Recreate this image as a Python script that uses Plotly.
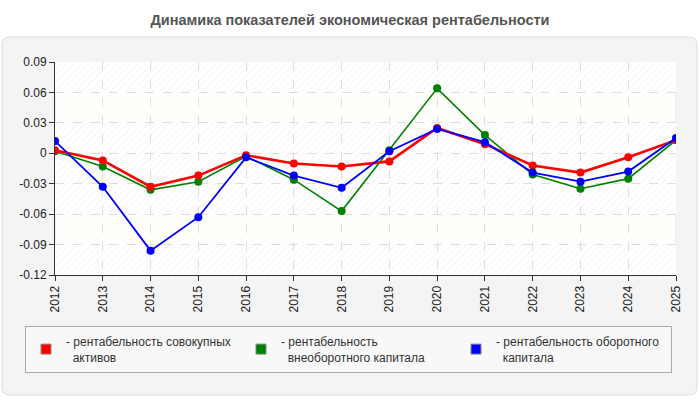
import plotly.graph_objects as go

years = [2012, 2013, 2014, 2015, 2016, 2017, 2018, 2019, 2020, 2021, 2022, 2023, 2024, 2025]
year_labels = [str(y) for y in years]
red_vals = [0.003, -0.007, -0.033, -0.022, -0.002, -0.010, -0.013, -0.008, 0.025, 0.009, -0.012, -0.019, -0.004, 0.013]
green_vals = [0.002, -0.013, -0.036, -0.028, -0.003, -0.026, -0.057, 0.003, 0.064, 0.018, -0.021, -0.035, -0.025, 0.013]
blue_vals = [0.012, -0.033, -0.096, -0.063, -0.004, -0.022, -0.034, 0.002, 0.024, 0.011, -0.019, -0.028, -0.018, 0.015]
y_ticks = [0.09, 0.06, 0.03, 0, -0.03, -0.06, -0.09, -0.12]
y_tick_labels = ["0.09", "0.06", "0.03", "0", "-0.03", "-0.06", "-0.09", "-0.12"]
hatch_bands = [(0.06, 0.09), (-0.06, 0.03), (-0.12, -0.09)]

series_names = [
    "- рентабельность совокупных<br>\u00a0\u00a0активов",
    "- рентабельность<br>\u00a0\u00a0внеоборотного капитала",
    "- рентабельность оборотного<br>\u00a0\u00a0капитала",
]
colors = ["#ff0000", "#008000", "#0000ff"]

W, H = 700, 400
ml, mr, mt, mb = 55, 24, 62, 125
pw, ph = W - ml - mr, H - mt - mb

def px_x(p):
    return (p - ml) / pw

def px_y(p):
    return (H - mb - p) / ph

fig = go.Figure()

xmin, xmax = years[0], years[-1]
ymin, ymax = min(y_ticks), max(y_ticks)

# hatched background bands
for lo, hi in hatch_bands:
    fig.add_trace(go.Scatter(
        x=[xmin, xmax, xmax, xmin, xmin], y=[lo, lo, hi, hi, lo],
        mode="lines", line=dict(width=0), fill="toself",
        fillcolor="rgba(0,0,0,0)",
        fillpattern=dict(shape="/", fgcolor="#e8e8e8", bgcolor="rgba(255,255,255,0)", size=5, solidity=0.2),
        hoverinfo="skip", showlegend=False,
    ))

# data lines (z-order: green, red, blue)
fig.add_trace(go.Scatter(x=years, y=green_vals, mode="lines+markers",
                         line=dict(color=colors[1], width=1.6), marker=dict(size=8, color=colors[1]),
                         showlegend=False))
fig.add_trace(go.Scatter(x=years, y=red_vals, mode="lines+markers",
                         line=dict(color=colors[0], width=2.6), marker=dict(size=8, color=colors[0]),
                         showlegend=False))
fig.add_trace(go.Scatter(x=years, y=blue_vals, mode="lines+markers",
                         line=dict(color=colors[2], width=1.8), marker=dict(size=8, color=colors[2]),
                         showlegend=False))

# legend entries
for name, c in zip(series_names, colors):
    fig.add_trace(go.Scatter(x=[None], y=[None], mode="markers", name=name,
                             marker=dict(symbol="square", size=10, color=c,
                                         line=dict(color="#888888", width=1))))

# outer rounded panel (paper coords)
x0, x1 = px_x(2), px_x(697)
y0, y1 = px_y(395), px_y(37)
rx, ry = 8 / pw, 8 / ph
path = (f"M{x0+rx},{y1} L{x1-rx},{y1} Q{x1},{y1} {x1},{y1-ry} "
        f"L{x1},{y0+ry} Q{x1},{y0} {x1-rx},{y0} L{x0+rx},{y0} "
        f"Q{x0},{y0} {x0},{y0+ry} L{x0},{y1-ry} Q{x0},{y1} {x0+rx},{y1} Z")
shapes = [dict(type="path", xref="paper", yref="paper", path=path,
               fillcolor="#f4f4f4", line=dict(color="#dddddd", width=1), layer="below")]
# plot area background
shapes.append(dict(type="rect", xref="x", yref="y", x0=xmin, x1=xmax, y0=ymin, y1=ymax,
                   fillcolor="#fefefa", line=dict(color="#dcdcdc", width=1), layer="below"))
for lo, hi in hatch_bands:
    shapes.append(dict(type="rect", xref="x", yref="y", x0=xmin, x1=xmax, y0=lo, y1=hi,
                       fillcolor="#ffffff", line=dict(width=0), layer="below"))

fig.update_layout(
    width=W, height=H,
    margin=dict(l=ml, r=mr, t=mt, b=mb, pad=0, autoexpand=False),
    paper_bgcolor="#ffffff", plot_bgcolor="#fefefa",
    font=dict(family="Liberation Sans, Arial, sans-serif", size=12, color="#222222"),
    title=dict(text="<b>Динамика показателей экономическая рентабельности</b>",
               x=0.5, xref="container", y=1 - 20 / H, yref="container", yanchor="middle",
               font=dict(size=14.5, color="#555555", family="Liberation Sans, Arial, sans-serif")),
    shapes=shapes,
    showlegend=True,
    legend=dict(orientation="h", x=px_x(25), xanchor="left", y=px_y(326), yanchor="top",
                bgcolor="#f8f8f8", bordercolor="#aaaaaa", borderwidth=1,
                font=dict(size=12, color="#333333"), entrywidth=170, entrywidthmode="pixels",
                itemclick=False, tracegroupgap=0),
    xaxis=dict(range=[xmin, xmax], tickmode="array", tickvals=years, ticktext=year_labels,
               tickangle=-90, ticks="outside", ticklen=5, tickcolor="#333333",
               showline=True, linecolor="#333333", linewidth=1,
               showgrid=True, gridcolor="#dddddd", griddash="dash", gridwidth=1,
               zeroline=False, fixedrange=True, tickfont=dict(size=12, color="#222222")),
    yaxis=dict(range=[ymin, ymax], tickmode="array", tickvals=y_ticks, ticktext=y_tick_labels,
               ticks="outside", ticklen=5, tickcolor="#333333",
               showline=True, linecolor="#333333", linewidth=1,
               showgrid=True, gridcolor="#dddddd", griddash="dash", gridwidth=1,
               zeroline=False, fixedrange=True, tickfont=dict(size=12, color="#222222")),
)

fig.write_html("out.html")
